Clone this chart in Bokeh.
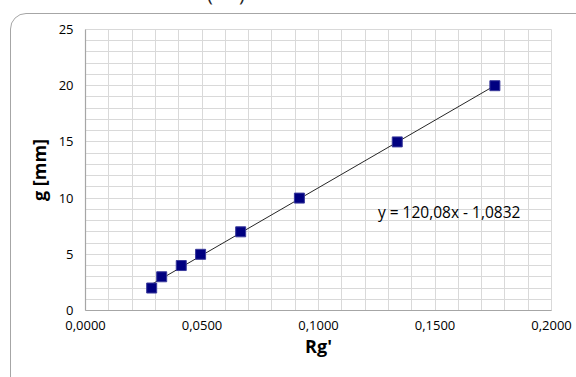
from bokeh.plotting import figure
from bokeh.models import (Range1d, SingleIntervalTicker, CustomJSTickFormatter,
                          Label, InlineStyleSheet)
from bokeh.embed import file_html
from bokeh.resources import INLINE

# --- data ---
rg = [0.0284, 0.0327, 0.0411, 0.0494, 0.0666, 0.0918, 0.1338, 0.1757]
g_mm = [2, 3, 4, 5, 7, 10, 15, 20]
slope = 120.08
intercept = -1.0832
x_title = "Rg'"
y_title = "g [mm]"
top_text = "(     )"

FONT = "Open Sans"

# rounded chart-area border (runs past the right and bottom edges, as in the crop)
# and the title above the chart, which the crop cuts off at the top edge
css = """
:host { position: relative; overflow: hidden; }
:host::after {
  content: "";
  position: absolute;
  left: 10px; top: 13px;
  width: 640px; height: 440px;
  border: 1px solid #a6a6a6;
  border-radius: 16px;
  pointer-events: none;
  box-sizing: border-box;
}
:host::before {
  content: "%s";
  white-space: pre;
  position: absolute;
  left: 207px; top: -16px;
  font-family: 'Open Sans';
  font-size: 20px;
  line-height: 20px;
  color: #262626;
  z-index: 5;
  pointer-events: none;
}
""" % top_text

p = figure(width=576, height=377, output_backend="svg", toolbar_location=None,
           x_range=Range1d(0, 0.2), y_range=Range1d(0, 25),
           min_border_left=85, min_border_right=25, min_border_top=29,
           min_border_bottom=67)
p.stylesheets = [InlineStyleSheet(css=css)]
p.background_fill_color = "white"
p.border_fill_color = "white"
p.outline_line_color = "#d9d9d9"

# axes
p.xaxis.ticker = SingleIntervalTicker(interval=0.05, num_minor_ticks=5)
p.yaxis.ticker = SingleIntervalTicker(interval=5, num_minor_ticks=5)
p.xaxis.formatter = CustomJSTickFormatter(code="return tick.toFixed(4).replace('.', ',');")
for ax in (p.xaxis[0], p.yaxis[0]):
    ax.major_tick_out = 0
    ax.major_tick_in = 0
    ax.minor_tick_out = 0
    ax.minor_tick_in = 0
    ax.axis_line_color = "#a6a6a6"
    ax.axis_line_width = 1.2
    ax.major_label_text_font = FONT
    ax.major_label_text_font_size = "13px"
    ax.major_label_text_color = "#000000"
    ax.axis_label_text_font = FONT
    ax.axis_label_text_font_size = "18px"
    ax.axis_label_text_font_style = "bold"
    ax.axis_label_text_color = "#000000"
p.xaxis.axis_label = x_title
p.yaxis.axis_label = y_title
p.xaxis.major_label_standoff = 10
p.yaxis.major_label_standoff = 12
p.xaxis.axis_label_standoff = 1
p.yaxis.axis_label_standoff = 5

# grids
for gr in (p.xgrid[0], p.ygrid[0]):
    gr.grid_line_color = "#d9d9d9"
    gr.minor_grid_line_color = "#d9d9d9"
    gr.grid_line_width = 1
    gr.minor_grid_line_width = 1

# trendline over the data range
x0, x1 = min(rg), max(rg)
p.line([x0, x1], [slope * x0 + intercept, slope * x1 + intercept],
       line_color="#262626", line_width=1)

# markers
p.scatter(rg, g_mm, marker="square", size=10, fill_color="#000080",
          line_color="#3a3a9c", line_width=1)

# equation label
eq = "y = {}x - {}".format(f"{slope:.2f}".replace(".", ","),
                           f"{abs(intercept):.4f}".replace(".", ","))
p.add_layout(Label(x=0.1255, y=8.73, text=eq, text_font=FONT,
                   text_font_size="15.5px", text_baseline="middle",
                   text_color="#000000"))

open("out.html", "w").write(file_html(p, INLINE))
